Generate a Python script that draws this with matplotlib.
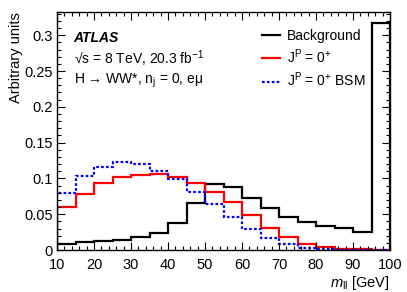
import numpy as np
import matplotlib
matplotlib.use("Agg")
import matplotlib.pyplot as plt
from matplotlib.ticker import MultipleLocator, FixedLocator, FixedFormatter

plt.rcParams['font.family'] = ['Liberation Sans', 'DejaVu Sans']
plt.rcParams['mathtext.fontset'] = 'custom'
plt.rcParams['mathtext.rm'] = 'Liberation Sans'
plt.rcParams['mathtext.it'] = 'Liberation Sans:italic'
plt.rcParams['mathtext.bf'] = 'Liberation Sans:bold'

# Data
bin_edges = [10, 15, 20, 25, 30, 35, 40, 45, 50, 55, 60, 65, 70, 75, 80, 85, 90, 95, 100]
background = [0.0085, 0.0107, 0.0121, 0.0140, 0.0177, 0.0233, 0.0380, 0.0660, 0.0920,
              0.0882, 0.0733, 0.0580, 0.0457, 0.0387, 0.0336, 0.0303, 0.0257, 0.3170]
sm_0p = [0.0597, 0.0780, 0.0930, 0.1018, 0.1045, 0.1060, 0.1018, 0.0940, 0.0817,
         0.0667, 0.0485, 0.0312, 0.0177, 0.0084, 0.0037, 0.0014, 0.0007, 0.0003]
bsm_0p = [0.0800, 0.1040, 0.1160, 0.1230, 0.1200, 0.1110, 0.0990, 0.0806, 0.0640,
          0.0457, 0.0294, 0.0163, 0.0080, 0.0028, 0.0010, 0.0005, 0.0003, 0.0002]
xticks = [10, 20, 30, 40, 50, 60, 70, 80, 90, 100]
yticks = [0, 0.05, 0.1, 0.15, 0.2, 0.25, 0.3]
yticklabels = ["0", "0.05", "0.1", "0.15", "0.2", "0.25", "0.3"]

fig = plt.figure(figsize=(4.07, 2.92), dpi=100)
ax = fig.add_axes([57/407, 1-250/292, (390-57)/407, (250-12.3)/292])

ax.stairs(background, bin_edges, color='black', lw=1.6, label='Background')
ax.stairs(sm_0p, bin_edges, color='#ff0000', lw=1.6, label=r'J$^{\mathrm{P}}$ = 0$^{+}$')
ax.stairs(bsm_0p, bin_edges, color='#0000ff', lw=1.6, linestyle=(0, (1.2, 1.0)),
          label=r'J$^{\mathrm{P}}$ = 0$^{+}$ BSM')

ax.set_xlim(10, 100)
ax.set_ylim(0, 0.332)
ax.xaxis.set_major_locator(FixedLocator(xticks))
ax.xaxis.set_minor_locator(MultipleLocator(2))
ax.yaxis.set_major_locator(FixedLocator(yticks))
ax.yaxis.set_major_formatter(FixedFormatter(yticklabels))
ax.yaxis.set_minor_locator(MultipleLocator(0.01))
ax.tick_params(which='both', direction='in', top=True, right=True, labelsize=10.5,
               width=0.8, colors='black')
ax.tick_params(which='major', length=6)
ax.tick_params(which='minor', length=3)
ax.tick_params(axis='x', which='major', pad=6)
ax.tick_params(axis='y', which='major', pad=3)
for s in ax.spines.values():
    s.set_linewidth(1.0)

ax.set_xlabel(r'$m_{\mathrm{ll}}$ [GeV]', fontsize=10.5, loc='right', labelpad=1)
ax.set_ylabel('Arbitrary units', fontsize=10.5, loc='top', labelpad=1)

ax.text(0.05, 0.893, 'ATLAS', transform=ax.transAxes, fontsize=10,
        fontweight='bold', fontstyle='italic', va='center')
ax.text(0.05, 0.803, '√s = 8 TeV, 20.3 fb$^{-1}$', transform=ax.transAxes,
        fontsize=10, va='center')
ax.text(0.05, 0.71, 'H → WW*, n$_{\\mathrm{j}}$ = 0, eμ',
        transform=ax.transAxes, fontsize=10, va='center')

leg = ax.legend(loc='upper left', bbox_to_anchor=(0.6, 0.955), frameon=False,
                fontsize=10, handlelength=1.3, handletextpad=0.5,
                labelspacing=0.35, borderaxespad=0)
for h in leg.legend_handles:
    h.set_linewidth(1.6)

fig.savefig('out.png', dpi=100)
